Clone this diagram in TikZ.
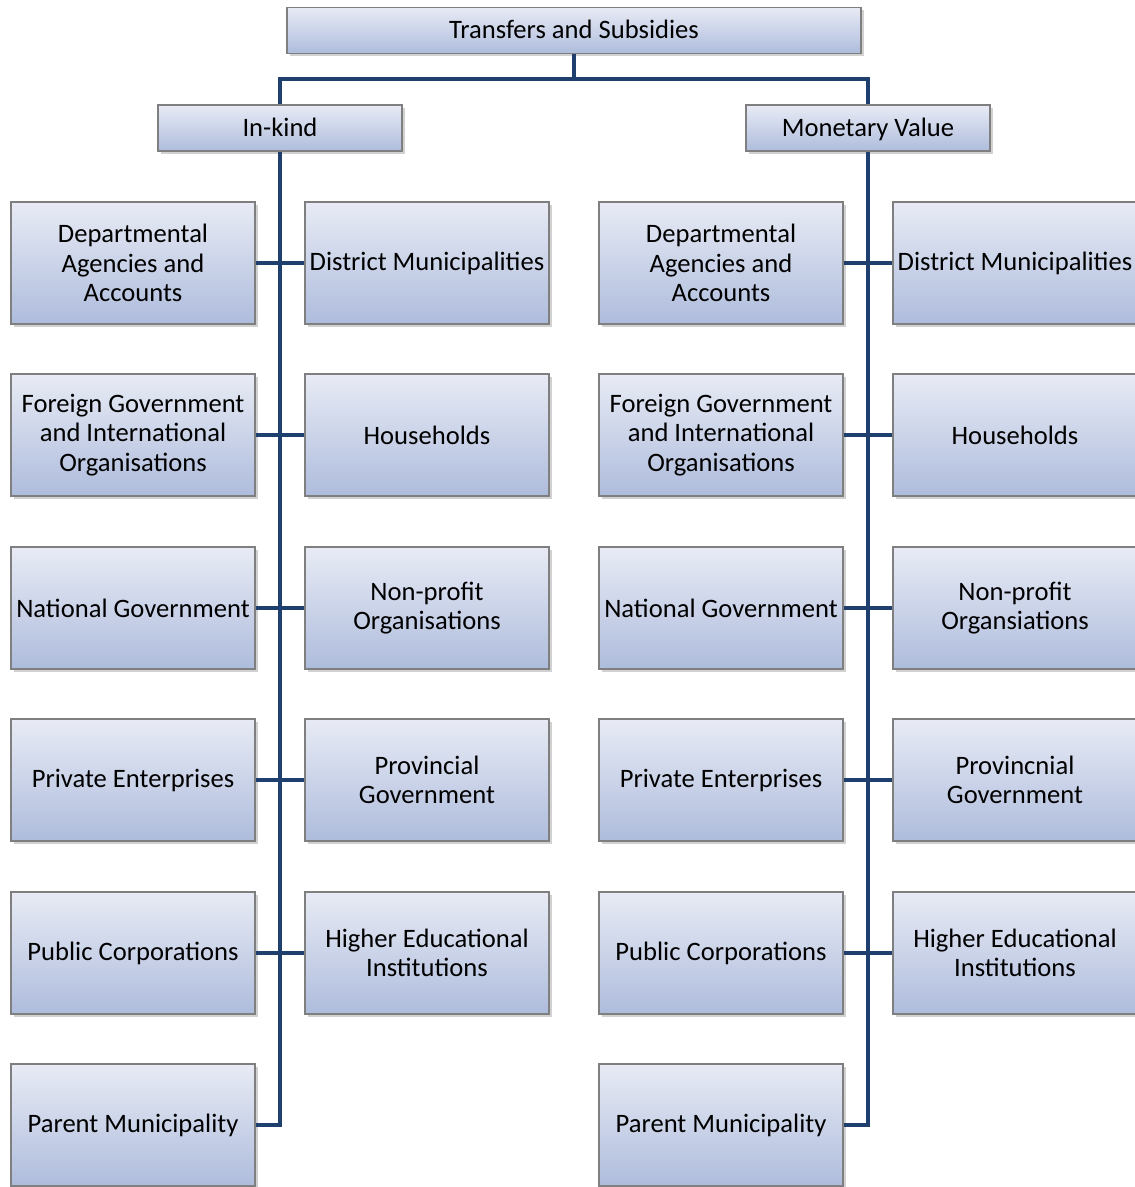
\documentclass[tikz,border=0pt]{standalone}
\usepackage{fontspec}
\setmainfont{Carlito}
\usepackage{xcolor}
\usepackage{tikz}
\usetikzlibrary{shadows}

\definecolor{boxtop}{HTML}{E8EBF5}
\definecolor{boxbot}{HTML}{AEBCDC}
\definecolor{boxline}{HTML}{7F7F7F}
\definecolor{linkblue}{HTML}{1F3F6E}

\tikzset{
  box/.style={draw=boxline,line width=0.6pt,top color=boxtop,bottom color=boxbot,
    minimum width=122pt,minimum height=61pt,inner sep=1pt,align=center,
    font=\fontsize{13.3}{14.75}\selectfont,
    drop shadow={shadow xshift=1.5pt,shadow yshift=-1.5pt,opacity=0.3,fill=black!60}},
  headbox/.style={box,minimum height=23pt,text height=11pt,text depth=2.5pt},
  link/.style={draw=linkblue,line width=2pt}
}

\begin{document}
\begin{tikzpicture}[x=0.5pt,y=-0.5pt]
\useasboundingbox (0,0) rectangle (1134,1187);

% Top level
\node[headbox,minimum width=287pt] (ts) at (574,30.5) {Transfers and Subsidies};
\node[headbox] (ik) at (280,128) {In-kind};
\node[headbox] (mv) at (868,128) {Monetary Value};

% In-kind boxes
\node[box] (ikdep) at (133,263) {Departmental\\Agencies and\\Accounts};
\node[box] (ikdist) at (427,263) {District Municipalities};
\node[box] (ikforeign) at (133,435) {Foreign Government\\and International\\Organisations};
\node[box] (ikhouse) at (427,435) {Households};
\node[box] (iknat) at (133,608) {National Government};
\node[box] (iknpo) at (427,608) {Non-profit\\Organisations};
\node[box] (ikpriv) at (133,780) {Private Enterprises};
\node[box] (ikprov) at (427,780) {Provincial\\Government};
\node[box] (ikpub) at (133,953) {Public Corporations};
\node[box] (ikhigher) at (427,953) {Higher Educational\\Institutions};
\node[box] (ikparent) at (133,1125) {Parent Municipality};

% Monetary value boxes
\node[box] (mvdep) at (721,263) {Departmental\\Agencies and\\Accounts};
\node[box] (mvdist) at (1015,263) {District Municipalities};
\node[box] (mvforeign) at (721,435) {Foreign Government\\and International\\Organisations};
\node[box] (mvhouse) at (1015,435) {Households};
\node[box] (mvnat) at (721,608) {National Government};
\node[box] (mvnpo) at (1015,608) {Non-profit\\Organsiations};
\node[box] (mvpriv) at (721,780) {Private Enterprises};
\node[box] (mvprov) at (1015,780) {Provincnial\\Government};
\node[box] (mvpub) at (721,953) {Public Corporations};
\node[box] (mvhigher) at (1015,953) {Higher Educational\\Institutions};
\node[box] (mvparent) at (721,1125) {Parent Municipality};

% Bus from the top
\coordinate (bus) at (574,79);
\draw[link] (ts.south) -- (bus);
\draw[link] (ik.north) |- (bus) -| (mv.north);

% Spines
\draw[link] (ik.south) |- (ikparent.east);
\draw[link] (mv.south) |- (mvparent.east);

% Rows
\draw[link] (ikdep.east) -- (ikdist.west);
\draw[link] (ikforeign.east) -- (ikhouse.west);
\draw[link] (iknat.east) -- (iknpo.west);
\draw[link] (ikpriv.east) -- (ikprov.west);
\draw[link] (ikpub.east) -- (ikhigher.west);
\draw[link] (mvdep.east) -- (mvdist.west);
\draw[link] (mvforeign.east) -- (mvhouse.west);
\draw[link] (mvnat.east) -- (mvnpo.west);
\draw[link] (mvpriv.east) -- (mvprov.west);
\draw[link] (mvpub.east) -- (mvhigher.west);
\end{tikzpicture}
\end{document}
